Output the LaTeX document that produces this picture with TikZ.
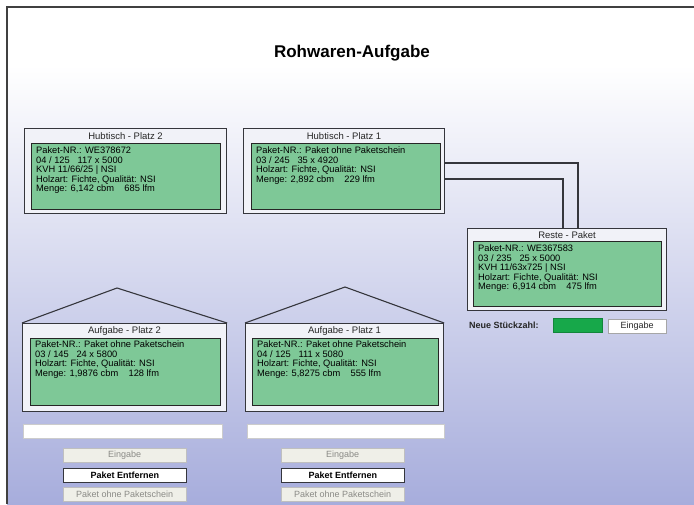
\documentclass[tikz,border=0pt]{standalone}
\usepackage{fontspec}
\setmainfont{Liberation Sans}
\usetikzlibrary{calc}
\definecolor{lav}{HTML}{A7ADDC}
\definecolor{panelbg}{HTML}{F1F2F8}
\definecolor{panelgreen}{HTML}{7EC897}
\definecolor{fieldgreen}{HTML}{17A84A}
\definecolor{edge}{HTML}{35363C}
\definecolor{btnbg}{HTML}{EFEFE8}
\definecolor{btntext}{HTML}{8A8A86}
\begin{document}
\begin{tikzpicture}[x=1pt,y=-1pt,
  outerbox/.style={draw=edge, line width=1.1pt, fill=panelbg, anchor=north west, inner sep=0pt},
  greenbox/.style={draw=black!85, line width=1.3pt, fill=panelgreen, anchor=north west, inner sep=0pt},
  boxtitle/.style={font=\fontsize{9.5}{10}\selectfont, text=black!85, inner sep=0pt},
  content/.style={font=\fontsize{9.3}{9.5}\selectfont, align=left, anchor=north west, inner sep=0pt, text=black},
  roof/.style={draw=edge, line width=1.1pt},
  link/.style={draw=edge, line width=1.6pt},
  textfield/.style={draw=black!20, fill=white, anchor=north west, inner sep=0pt, minimum width=199, minimum height=14},
  button/.style={draw=black!25, fill=btnbg, text=btntext, anchor=north west, inner sep=0pt,
                 minimum width=123, minimum height=14, font=\fontsize{9}{10}\selectfont},
  mainbutton/.style={button, draw=edge, line width=0.9pt, fill=white, text=black, font=\fontsize{9}{10}\selectfont\bfseries}
]
\useasboundingbox (0,0) rectangle (694,504);
\fill[white] (0,0) rectangle (694,504);
% window background
\fill[white] (7,7) rectangle (694,65);
\shade[top color=white, bottom color=lav] (7,65) rectangle (694,504);
\draw[line width=1.3pt, black!75] (7,504) -- (7,7) -- (694,7);

\node[font=\fontsize{17}{18}\selectfont\bfseries] (title) at (352,53) {Rohwaren-Aufgabe};

% Hubtisch - Platz 2
\node[outerbox, minimum width=202, minimum height=85] (h2) at (24,128) {};
\node[boxtitle] (h2t) at ($(h2.north)+(0,8)$) {Hubtisch - Platz 2};
\node[greenbox, minimum width=189, minimum height=66] (h2g) at (31,143) {};
\node[content] (h2c) at ($(h2g.north west)+(5,4)$) {Paket-NR.: WE378672\\04 / 125 \ \ 117 x 5000\\KVH 11/66/25 | NSI\\Holzart: Fichte, Qualität: NSI\\Menge: 6,142 cbm \ \ \ 685 lfm};

% Hubtisch - Platz 1
\node[outerbox, minimum width=201, minimum height=85] (h1) at (243,128) {};
\node[boxtitle] (h1t) at ($(h1.north)+(0,8)$) {Hubtisch - Platz 1};
\node[greenbox, minimum width=189, minimum height=66] (h1g) at (251,143) {};
\node[content] (h1c) at ($(h1g.north west)+(5,4)$) {Paket-NR.: Paket ohne Paketschein\\03 / 245 \ \ 35 x 4920\\Holzart: Fichte, Qualität: NSI\\Menge: 2,892 cbm \ \ \ 229 lfm};

% Reste-Paket
\node[outerbox, minimum width=199, minimum height=82] (rp) at (467,228) {};
\node[boxtitle] (rpt) at ($(rp.north)+(0,7)$) {Reste - Paket};
\node[greenbox, minimum width=188, minimum height=65] (rpg) at (473,241) {};
\node[content] (rpc) at ($(rpg.north west)+(5,4)$) {Paket-NR.: WE367583\\03 / 235 \ \ 25 x 5000\\KVH 11/63x725 | NSI\\Holzart: Fichte, Qualität: NSI\\Menge: 6,914 cbm \ \ \ 475 lfm};

% connections Hubtisch - Platz 1 -> Reste-Paket
\coordinate (k1) at ($(rp.north west)+(111,0)$);
\coordinate (k2) at ($(rp.north west)+(96,0)$);
\draw[link] ($(h1.north east)+(0,35)$) -| (k1);
\draw[link] ($(h1.north east)+(0,51)$) -| (k2);

\node[font=\fontsize{9}{10}\selectfont\bfseries, anchor=west, inner sep=0pt, text=black!85] (nsz) at (469,325) {Neue Stückzahl:};
\node[draw=fieldgreen!80!black, fill=fieldgreen, anchor=north west, inner sep=0pt, minimum width=49, minimum height=14] (nszf) at (553,318) {};
\node[button, text=black!85, draw=black!35, fill=white, minimum width=58, minimum height=14] (rpbtn) at (608,319) {Eingabe};

% Aufgabe - Platz 2
\node[outerbox, minimum width=204, minimum height=88] (a2) at (22,323) {};
\coordinate (a2top) at (117,288);
\draw[roof] (a2.north west) -- (a2top) -- (a2.north east);
\node[boxtitle] (a2t) at ($(a2.north)+(0,8)$) {Aufgabe - Platz 2};
\node[greenbox, minimum width=190, minimum height=67] (a2g) at (30,338) {};
\node[content] (a2c) at ($(a2g.north west)+(5,3)$) {Paket-NR.: Paket ohne Paketschein\\03 / 145 \ \ 24 x 5800\\Holzart: Fichte, Qualität: NSI\\Menge: 1,9876 cbm \ \ \ 128 lfm};

% Aufgabe - Platz 1
\node[outerbox, minimum width=198, minimum height=88] (a1) at (245,323) {};
\coordinate (a1top) at (345,287);
\draw[roof] (a1.north west) -- (a1top) -- (a1.north east);
\node[boxtitle] (a1t) at ($(a1.north)+(0,8)$) {Aufgabe - Platz 1};
\node[greenbox, minimum width=186, minimum height=67] (a1g) at (252,338) {};
\node[content] (a1c) at ($(a1g.north west)+(5,3)$) {Paket-NR.: Paket ohne Paketschein\\04 / 125 \ \ 111 x 5080\\Holzart: Fichte, Qualität: NSI\\Menge: 5,8275 cbm \ \ \ 555 lfm};

% input fields and buttons
\node[textfield] (f2) at (23,424) {};
\node[textfield, minimum width=197] (f1) at (247,424) {};

\node[button] (b2a) at (63,448) {Eingabe};
\node[mainbutton] (b2b) at (63,468) {Paket Entfernen};
\node[button] (b2c) at (63,487) {Paket ohne Paketschein};

\node[button] (b1a) at (281,448) {Eingabe};
\node[mainbutton] (b1b) at (281,468) {Paket Entfernen};
\node[button] (b1c) at (281,487) {Paket ohne Paketschein};
\end{tikzpicture}
\end{document}
